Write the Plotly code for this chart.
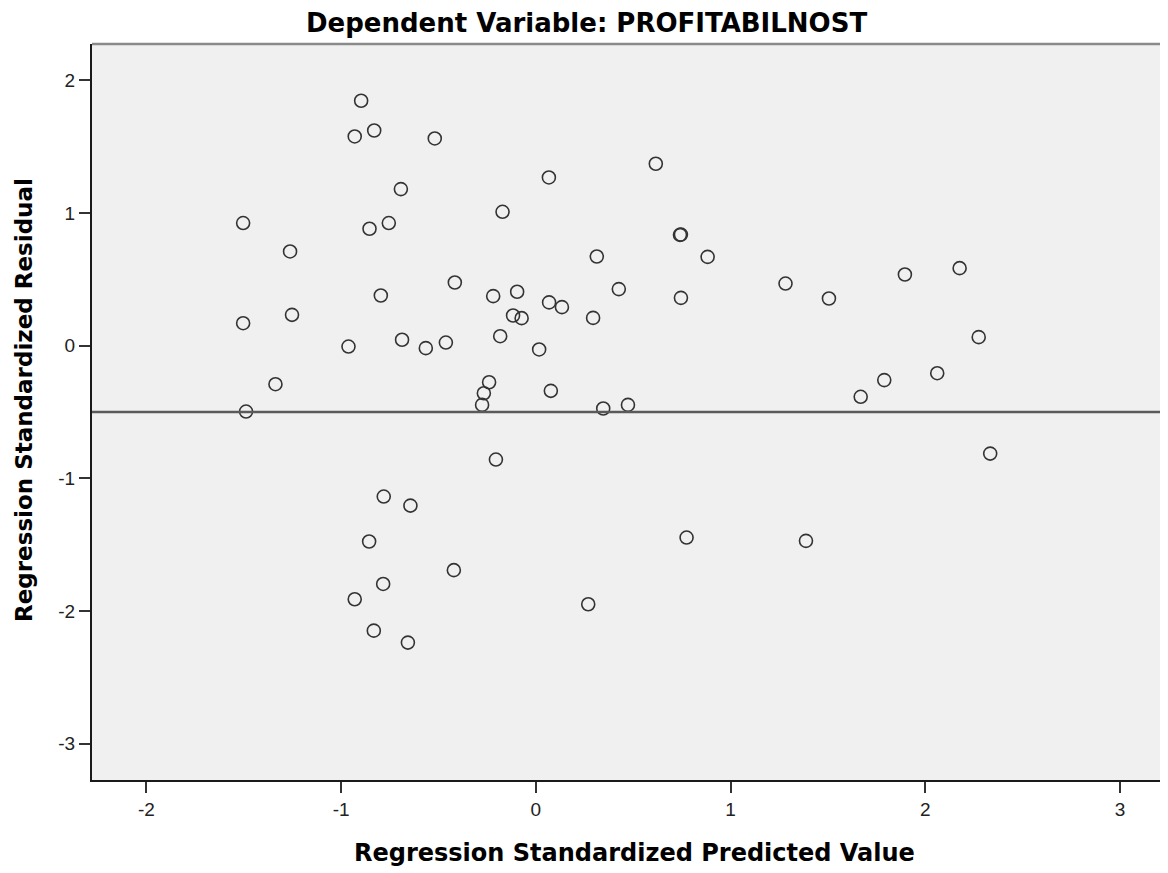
import plotly.graph_objects as go

# ---- data ----
pred = [-0.897, -0.930, -0.830, -0.519, 0.067, -0.693, -0.171, -1.503, -0.854, -0.755,
        -1.262, -0.416, -0.796, -0.219, -0.096, 0.068, 0.134, -0.117, -0.073, -1.503,
        -1.252, -0.183, -0.962, -0.687, -0.565, -0.462, 0.017, -1.337, -1.488, -0.240,
        -0.267, -0.276, 0.077, -0.205, -0.781, -0.644, -0.856, -0.421, -0.784, -0.930,
        -0.832, -0.657, 0.616, 0.740, 0.745, 0.313, 0.882, 0.426, 0.745, 0.294,
        0.346, 0.473, 1.282, 1.505, 1.895, 2.176, 2.274, 1.789, 1.668, 2.061,
        2.333, 1.387, 0.774, 0.269]
resid = [1.847, 1.578, 1.623, 1.563, 1.269, 1.181, 1.010, 0.925, 0.882, 0.925,
         0.711, 0.477, 0.379, 0.374, 0.407, 0.327, 0.291, 0.228, 0.208, 0.170,
         0.233, 0.072, -0.006, 0.045, -0.018, 0.024, -0.028, -0.290, -0.496, -0.275,
         -0.358, -0.446, -0.340, -0.858, -1.137, -1.205, -1.476, -1.692, -1.796, -1.911,
         -2.148, -2.238, 1.372, 0.836, 0.838, 0.673, 0.670, 0.427, 0.361, 0.210,
         -0.473, -0.446, 0.469, 0.356, 0.537, 0.585, 0.065, -0.259, -0.385, -0.207,
         -0.813, -1.471, -1.446, -1.949]
x_ticks = [-2, -1, 0, 1, 2, 3]
y_ticks = [-3, -2, -1, 0, 1, 2]
ref_line_y = -0.5
title_text = "Dependent Variable: PROFITABILNOST"
x_title = "Regression Standardized Predicted Value"
y_title = "Regression Standardized Residual"

# ---- layout geometry (page body has an 8px default margin) ----
OFF = 8
W, H = 1168, 873
L, T, R, B = 92 - OFF, 44 - OFF, 0, H - (780 - OFF)
PW, PH = W - L - R, H - T - B


def px_to_paper(px, py):
    # px, py are screen coordinates
    fx, fy = px - OFF, py - OFF
    return (fx - L) / PW, (H - B - fy) / PH


bold_font = "DejaVu Sans"
tick_font = dict(family="Liberation Sans, Arial, sans-serif", size=19, color="#222222")

fig = go.Figure()
fig.add_trace(go.Scatter(
    x=pred, y=resid, mode="markers",
    marker=dict(symbol="circle-open", size=13, color="#333333",
                line=dict(width=1.6, color="#333333")),
    showlegend=False, hoverinfo="x+y",
))

fig.update_layout(
    width=W, height=H,
    margin=dict(l=L, r=R, t=T, b=B, pad=0),
    paper_bgcolor="white",
    plot_bgcolor="#F0F0F0",
    showlegend=False,
)

fig.update_xaxes(
    range=[-2.279, 3.287], tickvals=x_ticks, ticktext=[str(v) for v in x_ticks],
    showgrid=False, zeroline=False, showline=True, linecolor="#1a1a1a", linewidth=2,
    ticks="outside", ticklen=11, tickwidth=1.5, tickcolor="#333333",
    tickfont=tick_font,
)
fig.update_yaxes(
    range=[-3.274, 2.275], tickvals=y_ticks, ticktext=[str(v) for v in y_ticks],
    showgrid=False, zeroline=False, showline=True, linecolor="#1a1a1a", linewidth=2,
    ticks="outside", ticklen=11, tickwidth=1.5, tickcolor="#333333",
    tickfont=tick_font,
)

# top frame line (gray)
fig.add_shape(type="line", xref="paper", yref="paper", x0=0, x1=1, y0=1, y1=1,
              line=dict(color="#8a8a8a", width=2.5))
# horizontal reference line
fig.add_shape(type="line", xref="paper", yref="y", x0=0, x1=1,
              y0=ref_line_y, y1=ref_line_y,
              line=dict(color="#5a5a5a", width=2.5))

# titles
tx, ty = px_to_paper(586, 23)
fig.add_annotation(text="<b>" + title_text + "</b>", x=tx, y=ty, xref="paper", yref="paper",
                   xanchor="center", yanchor="middle", showarrow=False,
                   font=dict(family=bold_font, size=26, color="black"))
xx, xy = px_to_paper(634, 853)
fig.add_annotation(text="<b>" + x_title + "</b>", x=xx, y=xy, xref="paper", yref="paper",
                   xanchor="center", yanchor="middle", showarrow=False,
                   font=dict(family=bold_font, size=24, color="black"))
yx, yy = px_to_paper(24, 400)
fig.add_annotation(text="<b>" + y_title + "</b>", x=yx, y=yy, xref="paper", yref="paper",
                   xanchor="center", yanchor="middle", showarrow=False, textangle=-90,
                   font=dict(family=bold_font, size=23, color="black"))

fig.write_html("out.html")
